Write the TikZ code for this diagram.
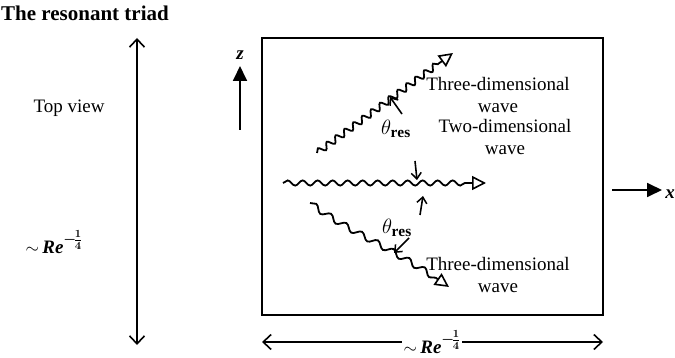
\documentclass[tikz,border=0pt]{standalone}
\usepackage{fontspec}
\setmainfont{Liberation Serif}
\usetikzlibrary{arrows.meta,decorations.pathmorphing}
\usepackage{amsmath}
\newcommand{\myscale}{$\sim$\,\textbf{\textit{Re}}\raisebox{0.5em}{\fontsize{15}{15}\selectfont$\boldsymbol{-\!\frac{1}{4}}$}}
\begin{document}
\begin{tikzpicture}[x=1pt,y=-1pt,
  every node/.style={font=\fontsize{19}{22}\selectfont, inner sep=1pt},
  dimline/.style={line width=1.6pt, {Straight Barb[length=8pt,width=15pt,line width=1.6pt]}-{Straight Barb[length=8pt,width=15pt,line width=1.6pt]}},
  axisarrow/.style={line width=1.8pt, -{Triangle[length=15pt,width=14pt]}},
  wave/.style={line width=1.8pt, decorate, -{Triangle[open,length=14pt,width=14pt,line width=1.6pt]},
    decoration={snake, amplitude=3.2pt, segment length=11pt, post length=14pt}},
  pointer/.style={line width=1.6pt, -{Straight Barb[length=6pt,width=10pt,line width=1.5pt]}},
  theta/.style={font=\fontsize{22}{24}\selectfont}
]
\useasboundingbox (0,0) rectangle (675,358);
% title and side labels
\node[anchor=west, font=\fontsize{21}{24}\selectfont\bfseries] (title) at (0,13) {The resonant triad};
\node (top) at (69,108) {Top view};
\coordinate (vt) at (137,38);
\coordinate (vb) at (137,345);
\draw[dimline] (vt) -- (vb);
\node (vlab) at (54,242) {\myscale};
% z axis
\coordinate (z0) at (240,130);
\coordinate (z1) at (240,66);
\draw[axisarrow] (z0) -- (z1);
\node (zl) at (240,55) {\textbf{\textit{z}}};
% box
\node[draw, line width=2pt, minimum width=341pt, minimum height=277pt, inner sep=0pt] (box) at (432.5,176.5) {};
% x axis
\coordinate (x0) at (612,190);
\coordinate (x1) at (662,190);
\draw[axisarrow] (x0) -- (x1);
\node (xl) at (670,194) {\textbf{\textit{x}}};
% bottom dimension
\coordinate (hl) at (262,342);
\coordinate (hr) at (603,342);
\draw[dimline] (hl) -- (hr);
\node[fill=white, inner sep=2pt] (hlab) at (432,342) {\myscale};
% waves
\coordinate (u0) at (317,153);
\coordinate (u1) at (453,53);
\draw[wave] (u0) -- (u1);
\coordinate (h0) at (283,183);
\coordinate (h1) at (486,183);
\draw[wave, decoration={snake, amplitude=2.6pt, segment length=15pt, post length=14pt}] (h0) -- (h1);
\coordinate (l0) at (310,203);
\coordinate (l1) at (449,287);
\draw[wave, decoration={snake, amplitude=3pt, segment length=18pt, post length=14pt}] (l0) .. controls (350,232) and (390,245) .. (l1);
% labels
\node[align=center] (t3u) at (498,95) {Three-dimensional\\wave};
\node[align=center] (t2) at (505,137) {Two-dimensional\\wave};
\node[align=center] (t3l) at (498,275) {Three-dimensional\\wave};
\node[theta] (thu) at (396,129) {$\theta_{\mathbf{res}}$};
\node[theta] (thl) at (397,228) {$\theta_{\mathbf{res}}$};
% pointers
\coordinate (pu0) at (402,114);
\coordinate (pu1) at (390,97);
\draw[pointer] (pu0) -- (pu1);
\coordinate (pm0) at (415,161);
\coordinate (pm1) at (417,180);
\draw[pointer] (pm0) -- (pm1);
\coordinate (pn0) at (420,215);
\coordinate (pn1) at (423,196);
\draw[pointer] (pn0) -- (pn1);
\coordinate (pl0) at (409,238);
\coordinate (pl1) at (394,253);
\draw[pointer] (pl0) -- (pl1);
\end{tikzpicture}
\end{document}
